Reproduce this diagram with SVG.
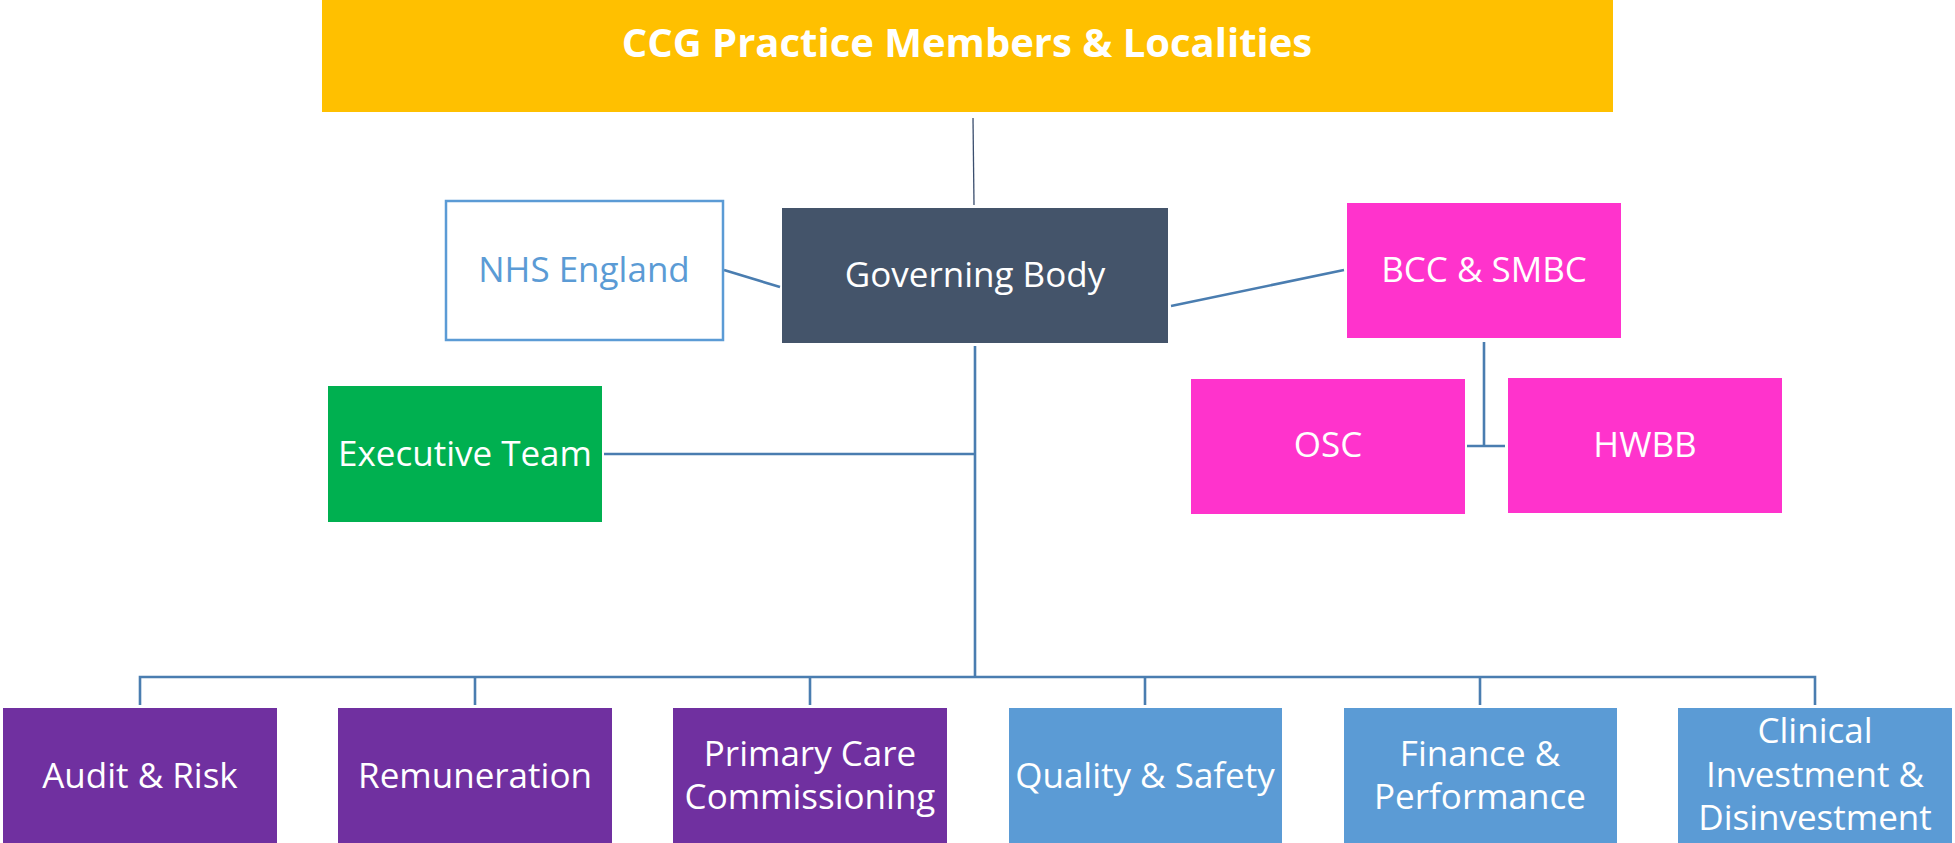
<svg xmlns="http://www.w3.org/2000/svg" width="1955" height="843" viewBox="0 0 1955 843">
<style>
.t{font-family:"Open Sans","Noto Sans","Liberation Sans",sans-serif;font-size:35px;fill:#ffffff;text-anchor:middle}
.title{font-family:"Open Sans","Noto Sans","Liberation Sans",sans-serif;font-size:40px;font-weight:bold;fill:#ffffff;text-anchor:middle}
.c{stroke:#4A7DB0;stroke-width:2.6;fill:none}
.purple{fill:#7030A0}
.blue{fill:#5B9BD5}
.pink{fill:#FF33CC}
</style>
<rect width="1955" height="843" fill="#ffffff"/>
<g id="connectors">
<line x1="973" y1="118" x2="974" y2="205" stroke="#3B4E6E" stroke-width="1.3"/>
<line class="c" x1="724" y1="270" x2="780" y2="287"/>
<line class="c" x1="1171" y1="306" x2="1344" y2="270"/>
<line class="c" x1="1484" y1="342" x2="1484" y2="446"/>
<line class="c" x1="1467" y1="446" x2="1505" y2="446"/>
<line class="c" x1="604" y1="454" x2="975" y2="454"/>
<line class="c" x1="975" y1="346" x2="975" y2="677"/>
<polyline class="c" points="140,705 140,677 1815,677 1815,705"/>
<line class="c" x1="475" y1="677" x2="475" y2="705"/>
<line class="c" x1="810" y1="677" x2="810" y2="705"/>
<line class="c" x1="1145" y1="677" x2="1145" y2="705"/>
<line class="c" x1="1480" y1="677" x2="1480" y2="705"/>
</g>
<g id="ccg">
<rect x="322" y="0" width="1291" height="112" fill="#FFC000"/>
<text class="title" x="967" y="57">CCG Practice Members &amp; Localities</text>
</g>
<g id="nhs-england">
<rect x="446" y="201" width="277" height="139" fill="#ffffff" stroke="#5B9BD5" stroke-width="2.5"/>
<text class="t" x="584" y="282" style="fill:#5B9BD5">NHS England</text>
</g>
<g id="governing-body">
<rect x="782" y="208" width="386" height="135" fill="#44546A"/>
<text class="t" x="975" y="287">Governing Body</text>
</g>
<g id="bcc-smbc">
<rect class="pink" x="1347" y="203" width="274" height="135"/>
<text class="t" x="1484" y="282">BCC &amp; SMBC</text>
</g>
<g id="osc">
<rect class="pink" x="1191" y="379" width="274" height="135"/>
<text class="t" x="1328" y="457">OSC</text>
</g>
<g id="hwbb">
<rect class="pink" x="1508" y="378" width="274" height="135"/>
<text class="t" x="1645" y="457">HWBB</text>
</g>
<g id="executive-team">
<rect x="328" y="386" width="274" height="136" fill="#00B050"/>
<text class="t" x="465" y="466">Executive Team</text>
</g>
<g id="audit-risk">
<rect class="purple" x="3" y="708" width="274" height="135"/>
<text class="t" x="140" y="788">Audit &amp; Risk</text>
</g>
<g id="remuneration">
<rect class="purple" x="338" y="708" width="274" height="135"/>
<text class="t" x="475" y="788">Remuneration</text>
</g>
<g id="primary-care">
<rect class="purple" x="673" y="708" width="274" height="135"/>
<text class="t" x="810" y="766">Primary Care</text>
<text class="t" x="810" y="809">Commissioning</text>
</g>
<g id="quality-safety">
<rect class="blue" x="1009" y="708" width="273" height="135"/>
<text class="t" x="1145" y="788">Quality &amp; Safety</text>
</g>
<g id="finance-performance">
<rect class="blue" x="1344" y="708" width="273" height="135"/>
<text class="t" x="1480" y="766">Finance &amp;</text>
<text class="t" x="1480" y="809">Performance</text>
</g>
<g id="clinical-investment">
<rect class="blue" x="1678" y="708" width="274" height="135"/>
<text class="t" x="1815" y="743">Clinical</text>
<text class="t" x="1815" y="787">Investment &amp;</text>
<text class="t" x="1815" y="830">Disinvestment</text>
</g>
</svg>
